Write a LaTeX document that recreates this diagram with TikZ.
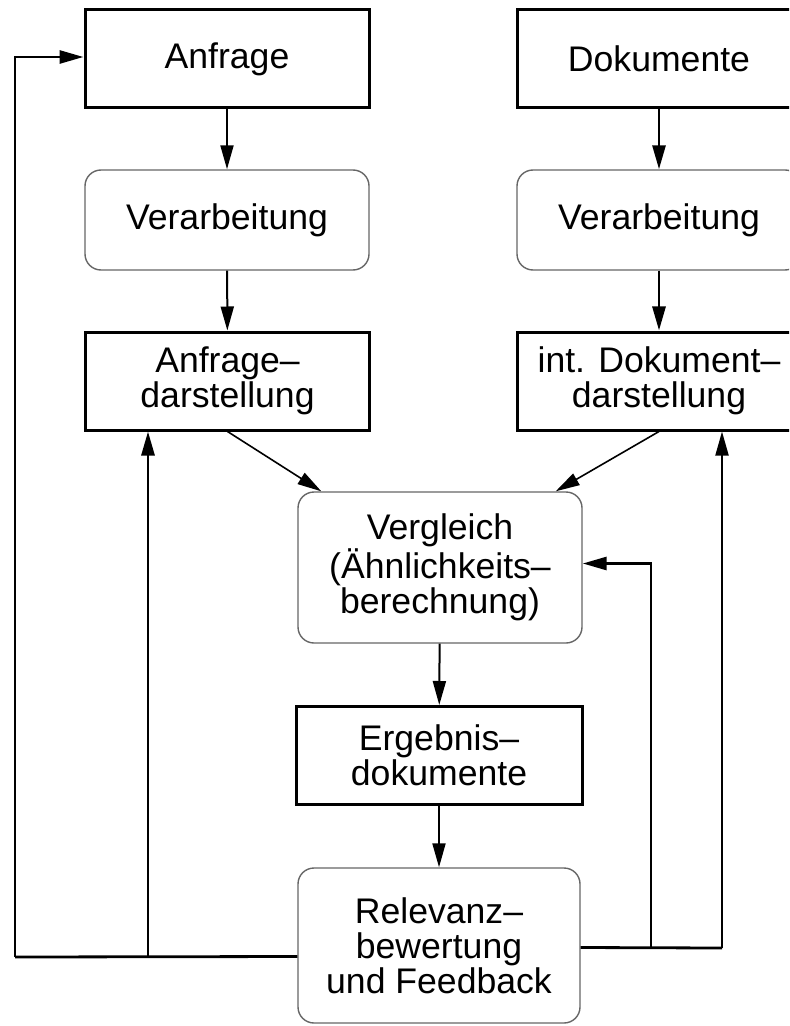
\documentclass[tikz,border=0pt]{standalone}
\usepackage{fontspec}
\setmainfont{Liberation Sans}
\usetikzlibrary{arrows.meta}

\tikzset{
  box/.style={draw=black, line width=1.5pt, minimum width=142pt, minimum height=49pt,
    align=center, inner sep=0pt},
  roundbox/.style={draw=black!60, line width=0.7pt, rounded corners=8pt, minimum width=142pt,
    minimum height=50pt, align=center, inner sep=0pt},
  link/.style={line width=1pt, -{Triangle[length=12pt,width=6.5pt]}},
  fb/.style={line width=1.4pt},
}

\begin{document}
\begin{tikzpicture}[x=0.5pt, y=-0.5pt, font=\fontsize{17.8}{17.5}\selectfont]
\clip (0,0) rectangle (789,1026);
\node [box] (anfrage) at (227,59) {Anfrage};
\node [roundbox] (verarbl) at (227,220) {Verarbeitung};
\node [box] (anfrdar) at (227.5,381) {Anfrage\textendash\\darstellung};
\node [box] (dok) at (659,59) {Dokumente};
\node [roundbox] (verarbr) at (659,220) {Verarbeitung};
\node [box] (dokdar) at (659,381) {int. Dokument\textendash\\darstellung};
\node [roundbox, minimum height=75.5pt] (vergleich) at (440,567.5) {Vergleich\\(Ähnlichkeits\textendash\\berechnung)};
\node [box, minimum width=143pt] (ergebnis) at (439,755.5) {Ergebnis\textendash\\dokumente};
\node [roundbox, minimum width=141pt, minimum height=77.5pt] (relevanz) at (439,945.5) {Relevanz\textendash\\bewertung\\und Feedback};
\coordinate (lo) at (15,957);
\coordinate (lb) at (148,957);
\coordinate (ro) at (722,948);
\coordinate (rb) at (651,948);
\draw [link] (anfrage) -- (verarbl);
\draw [link] (verarbl) -- (anfrdar);
\draw [link, line width=1.4pt] (dok) -- (verarbr);
\draw [link, line width=1.4pt] (verarbr) -- (dokdar);
\draw [link, line width=0.8pt] (anfrdar.south) -- ([xshift=12pt]vergleich.north west);
\draw [link, line width=0.8pt] (dokdar.south) -- ([xshift=-13.5pt]vergleich.north east);
\draw [link] (vergleich) -- (ergebnis);
\draw [link] (ergebnis) -- (relevanz);
\draw [fb] ([yshift=-5.5pt]relevanz.west) -- (lo);
\draw [fb, link, line width=1.4pt] (lo) |- ([yshift=1pt]anfrage.west);
\draw [fb, link, line width=1.4pt] (lb) -- (lb |- anfrdar.south);
\draw [fb] ([yshift=-1pt]relevanz.east) -- (ro);
\draw [link] (ro) -- (ro |- dokdar.south);
\draw [fb, link, line width=1.4pt] (rb) |- ([yshift=2pt]vergleich.east);
\end{tikzpicture}
\end{document}
